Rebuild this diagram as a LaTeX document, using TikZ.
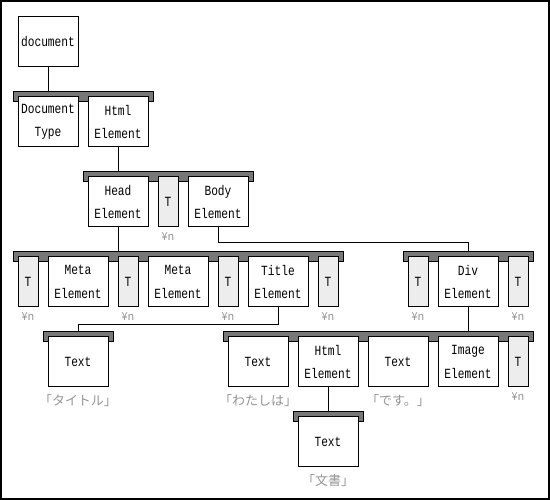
\documentclass[tikz,border=0pt]{standalone}
\usepackage{fontspec}
\usetikzlibrary{positioning, calc}
\newfontfamily\boxfont[FakeStretch=0.8]{Liberation Mono}
\newfontfamily\jpfont{Noto Sans CJK JP}
\definecolor{bargray}{rgb}{0.47, 0.47, 0.47}
\definecolor{tboxgray}{rgb}{0.93, 0.93, 0.93}
\definecolor{notegray}{rgb}{0.58, 0.58, 0.58}
\tikzset{
    elem/.style={draw, fill=white, line width=1pt, minimum width=60pt, minimum height=50pt,
        inner sep=0pt, align=center, font=\boxfont\fontsize{14}{23.5}\selectfont},
    tbox/.style={elem, minimum width=20pt, fill=tboxgray},
    bar/.style={draw, fill=bargray, line width=1pt, minimum height=10pt, inner sep=0pt},
    note/.style={text=notegray, inner sep=1pt, font=\jpfont\fontsize{13}{15}\selectfont},
    lf/.style={text=notegray, inner sep=1pt, font=\jpfont\fontsize{11}{13}\selectfont},
    link/.style={line width=1pt}
}

\begin{document}
\begin{tikzpicture}[x=1pt, y=-1pt]
    \useasboundingbox (0,0) rectangle (550,500);
    \draw[line width=2pt] (1,1) rectangle (549,499);

    % bars
    \node[bar, minimum width=140pt] (Bar0) at (83, 97) {};
    \node[bar, minimum width=170pt] (Bar1) at (168, 177) {};
    \node[bar, minimum width=330pt] (Bar2) at (178, 257) {};
    \node[bar, minimum width=130pt] (Bar3) at (468, 257) {};
    \node[bar, minimum width=70pt] (Bar4) at (78, 337) {};
    \node[bar, minimum width=310pt] (Bar5) at (378, 337) {};
    \node[bar, minimum width=70pt] (Bar6) at (328, 417) {};

    % boxes
    \node[elem] (Doc) at (48, 42) {document};

    \node[elem] (DocType) at (48, 122) {Document\\Type};
    \node[elem] (Html1) at (118, 122) {Html\\Element};

    \node[elem] (Head) at (118, 202) {Head\\Element};
    \node[tbox] (T1) at (168, 202) {T};
    \node[elem] (Body) at (218, 202) {Body\\Element};

    \node[tbox] (T2) at (28, 282) {T};
    \node[elem] (Meta1) at (78, 282) {Meta\\Element};
    \node[tbox] (T3) at (128, 282) {T};
    \node[elem] (Meta2) at (178, 282) {Meta\\Element};
    \node[tbox] (T4) at (228, 282) {T};
    \node[elem] (Title) at (278, 282) {Title\\Element};
    \node[tbox] (T5) at (328, 282) {T};

    \node[tbox] (T6) at (418, 282) {T};
    \node[elem] (Div) at (468, 282) {Div\\Element};
    \node[tbox] (T7) at (518, 282) {T};

    \node[elem] (Text1) at (78, 362) {Text};

    \node[elem] (Text2) at (258, 362) {Text};
    \node[elem] (Html2) at (328, 362) {Html\\Element};
    \node[elem] (Text3) at (398, 362) {Text};
    \node[elem] (Image) at (468, 362) {Image\\Element};
    \node[tbox] (T8) at (518, 362) {T};

    \node[elem] (Text4) at (328, 442) {Text};

    % labels
    \foreach \t in {T1, T2, T3, T4, T5, T6, T7, T8}
        \node[lf, below = 4pt of \t] (L\t) {¥n};
    \node[note, below = 6pt of Text1] (LText1) {「タイトル」};
    \node[note, below = 6pt of Text2] (LText2) {「わたしは」};
    \node[note, below = 6pt of Text3] (LText3) {「です。」};
    \node[note, below = 6pt of Text4] (LText4) {「文書」};

    % links
    \draw[link] (Doc.south) -- (Doc.south |- Bar0.north);
    \draw[link] (Html1.south) -- (Html1.south |- Bar1.north);
    \draw[link] (Head.south) -- (Head.south |- Bar2.north);
    \draw[link] (Body.south) -- ++(0, 15) -| (Div.south |- Bar3.north);
    \draw[link] (Title.south) -- ++(0, 17) -| (Text1.south |- Bar4.north);
    \draw[link] (Div.south) -- (Div.south |- Bar5.north);
    \draw[link] (Html2.south) -- (Html2.south |- Bar6.north);
\end{tikzpicture}
\end{document}
